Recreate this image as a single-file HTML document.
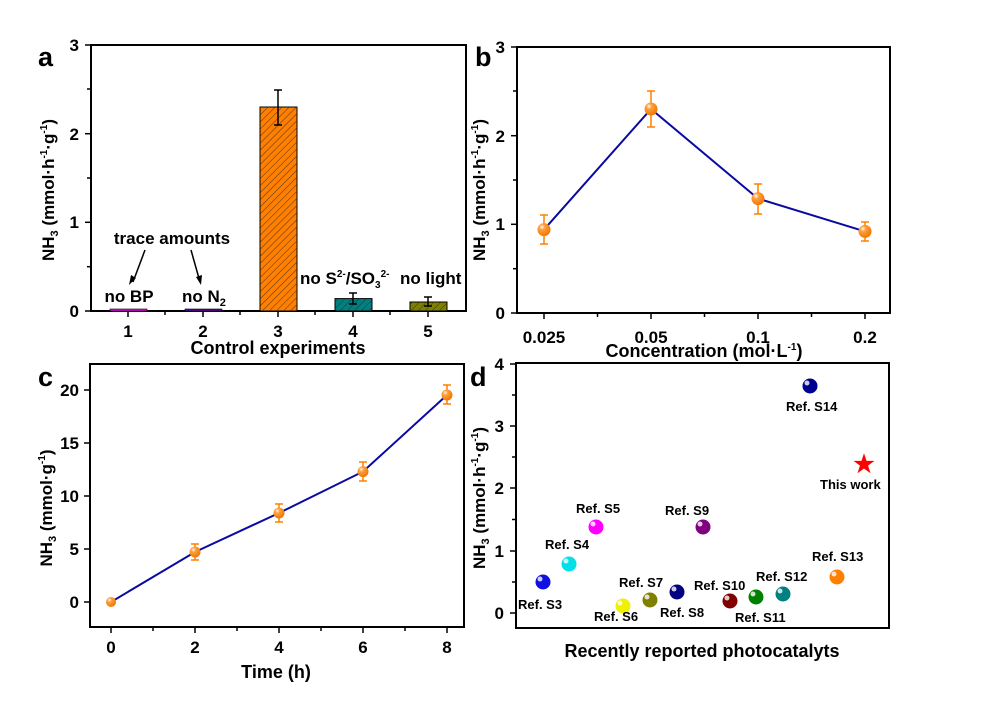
<!DOCTYPE html>
<html><head><meta charset="utf-8"><style>
html,body{margin:0;padding:0;background:#fff}
svg{display:block;font-family:"Liberation Sans",Arial,sans-serif;font-weight:bold}
</style></head><body>
<svg width="985" height="726" viewBox="0 0 985 726" xmlns="http://www.w3.org/2000/svg">
<defs>
<pattern id="h" patternUnits="userSpaceOnUse" width="5" height="5" patternTransform="rotate(45)">
<line x1="0" y1="0" x2="0" y2="5" stroke="#222" stroke-width="0.8"/></pattern>
<radialGradient id="go" cx="0.35" cy="0.3" r="0.7"><stop offset="0" stop-color="#fff"/><stop offset="0.3" stop-color="#ffa040"/><stop offset="1" stop-color="#f07800"/></radialGradient>
</defs>
<g stroke="#000" stroke-width="2" fill="none">
<rect x="91" y="45" width="375" height="266"/>
<rect x="517" y="47" width="373" height="266"/>
<rect x="90" y="364" width="374" height="263"/>
<rect x="516" y="363" width="373" height="265"/>
</g>
<g font-size="17" fill="#000">
<!-- Panel a -->
<text x="38" y="66" font-size="27">a</text>
<g stroke="#000" stroke-width="1.5">
<line x1="85" y1="45" x2="91" y2="45"/><line x1="85" y1="133.7" x2="91" y2="133.7"/><line x1="85" y1="222.3" x2="91" y2="222.3"/><line x1="85" y1="311" x2="91" y2="311"/>
<line x1="87" y1="89" x2="91" y2="89"/><line x1="87" y1="178" x2="91" y2="178"/><line x1="87" y1="266.7" x2="91" y2="266.7"/>
<line x1="128" y1="311" x2="128" y2="317"/><line x1="203" y1="311" x2="203" y2="317"/><line x1="278" y1="311" x2="278" y2="317"/><line x1="353" y1="311" x2="353" y2="317"/><line x1="428" y1="311" x2="428" y2="317"/>
<line x1="165" y1="311" x2="165" y2="315"/><line x1="240" y1="311" x2="240" y2="315"/><line x1="315" y1="311" x2="315" y2="315"/><line x1="390" y1="311" x2="390" y2="315"/>
</g>
<text x="79" y="51" text-anchor="end">3</text><text x="79" y="140" text-anchor="end">2</text><text x="79" y="228" text-anchor="end">1</text><text x="79" y="317" text-anchor="end">0</text>
<text x="128" y="337" text-anchor="middle">1</text><text x="203" y="337" text-anchor="middle">2</text><text x="278" y="337" text-anchor="middle">3</text><text x="353" y="337" text-anchor="middle">4</text><text x="428" y="337" text-anchor="middle">5</text>
<text x="278" y="354" text-anchor="middle" font-size="18">Control experiments</text>
<text transform="translate(54,190) rotate(-90)" text-anchor="middle" font-size="17">NH<tspan font-size="11" dy="4">3</tspan><tspan dy="-4"> (mmol·h</tspan><tspan font-size="10" dy="-7">-1</tspan><tspan dy="7">·g</tspan><tspan font-size="10" dy="-7">-1</tspan><tspan dy="7">)</tspan></text>
<rect x="110" y="309" width="37" height="2" fill="#ff00ff" stroke="#000" stroke-width="0.6"/>
<rect x="185" y="309" width="37" height="2" fill="#6a00b0" stroke="#000" stroke-width="0.6"/>
<rect x="260" y="107" width="37" height="204" fill="#ff7f00" stroke="#000" stroke-width="1"/>
<rect x="260" y="107" width="37" height="204" fill="url(#h)"/>
<rect x="335" y="298.6" width="37" height="12.4" fill="#008080" stroke="#000" stroke-width="1"/>
<rect x="335" y="298.6" width="37" height="12.4" fill="url(#h)"/>
<rect x="410" y="302" width="37" height="9" fill="#808000" stroke="#000" stroke-width="1"/>
<rect x="410" y="302" width="37" height="9" fill="url(#h)"/>
<g stroke="#000" stroke-width="1.5">
<line x1="278" y1="90" x2="278" y2="125"/><line x1="274" y1="90" x2="282" y2="90"/><line x1="274" y1="125" x2="282" y2="125"/>
<line x1="353" y1="293" x2="353" y2="304"/><line x1="349" y1="293" x2="357" y2="293"/><line x1="349" y1="304" x2="357" y2="304"/>
<line x1="428" y1="297" x2="428" y2="306"/><line x1="424" y1="297" x2="432" y2="297"/><line x1="424" y1="306" x2="432" y2="306"/>
<line x1="145" y1="250" x2="133" y2="282"/><line x1="191" y1="250" x2="200" y2="282"/>
</g>
<path d="M129,285 L131,275 L136,278 Z M201,285 L196,277 L202,275 Z" fill="#000"/>
<text x="172" y="244" text-anchor="middle">trace amounts</text>
<text x="129" y="302" text-anchor="middle">no BP</text>
<text x="182" y="302">no N<tspan font-size="11" dy="4">2</tspan></text>
<text x="300" y="284">no S<tspan font-size="10" dy="-7">2-</tspan><tspan dy="7">/SO</tspan><tspan font-size="10" dy="4">3</tspan><tspan font-size="10" dy="-11">2-</tspan></text>
<text x="400" y="284">no light</text>

<!-- Panel b -->
<text x="475" y="66" font-size="27">b</text>
<g stroke="#000" stroke-width="1.5">
<line x1="511" y1="47" x2="517" y2="47"/><line x1="511" y1="135.7" x2="517" y2="135.7"/><line x1="511" y1="224.3" x2="517" y2="224.3"/><line x1="511" y1="313" x2="517" y2="313"/>
<line x1="513" y1="91" x2="517" y2="91"/><line x1="513" y1="180" x2="517" y2="180"/><line x1="513" y1="268.7" x2="517" y2="268.7"/>
<line x1="544" y1="313" x2="544" y2="319"/><line x1="651" y1="313" x2="651" y2="319"/><line x1="758" y1="313" x2="758" y2="319"/><line x1="865" y1="313" x2="865" y2="319"/>
<line x1="597.5" y1="313" x2="597.5" y2="317"/><line x1="704.5" y1="313" x2="704.5" y2="317"/><line x1="811.5" y1="313" x2="811.5" y2="317"/>
</g>
<text x="505" y="53" text-anchor="end">3</text><text x="505" y="142" text-anchor="end">2</text><text x="505" y="230" text-anchor="end">1</text><text x="505" y="319" text-anchor="end">0</text>
<text x="544" y="343" text-anchor="middle">0.025</text><text x="651" y="343" text-anchor="middle">0.05</text><text x="758" y="343" text-anchor="middle">0.1</text><text x="865" y="343" text-anchor="middle">0.2</text>
<text x="704" y="357" text-anchor="middle" font-size="18">Concentration (mol·L<tspan font-size="10" dy="-7">-1</tspan><tspan dy="7">)</tspan></text>
<text transform="translate(485,190) rotate(-90)" text-anchor="middle" font-size="17">NH<tspan font-size="11" dy="4">3</tspan><tspan dy="-4"> (mmol·h</tspan><tspan font-size="10" dy="-7">-1</tspan><tspan dy="7">·g</tspan><tspan font-size="10" dy="-7">-1</tspan><tspan dy="7">)</tspan></text>
<polyline points="544,229.6 651,109 758,198.6 865,231.4" fill="none" stroke="#0a0aa0" stroke-width="2"/>
<g stroke="#ff7f00" stroke-width="1.5">
<line x1="544" y1="215" x2="544" y2="244"/><line x1="540" y1="215" x2="548" y2="215"/><line x1="540" y1="244" x2="548" y2="244"/>
<line x1="651" y1="91" x2="651" y2="127"/><line x1="647" y1="91" x2="655" y2="91"/><line x1="647" y1="127" x2="655" y2="127"/>
<line x1="758" y1="184" x2="758" y2="214"/><line x1="754" y1="184" x2="762" y2="184"/><line x1="754" y1="214" x2="762" y2="214"/>
<line x1="865" y1="222" x2="865" y2="241"/><line x1="861" y1="222" x2="869" y2="222"/><line x1="861" y1="241" x2="869" y2="241"/>
</g>
<g fill="url(#go)"><circle cx="544" cy="229.6" r="6.5"/><circle cx="651" cy="109" r="6.5"/><circle cx="758" cy="198.6" r="6.5"/><circle cx="865" cy="231.4" r="6.5"/></g>

<!-- Panel c -->
<text x="38" y="386" font-size="27">c</text>
<g stroke="#000" stroke-width="1.5">
<line x1="84" y1="390" x2="90" y2="390"/><line x1="84" y1="443" x2="90" y2="443"/><line x1="84" y1="496" x2="90" y2="496"/><line x1="84" y1="549" x2="90" y2="549"/><line x1="84" y1="602" x2="90" y2="602"/>
<line x1="111" y1="627" x2="111" y2="633"/><line x1="195" y1="627" x2="195" y2="633"/><line x1="279" y1="627" x2="279" y2="633"/><line x1="363" y1="627" x2="363" y2="633"/><line x1="447" y1="627" x2="447" y2="633"/>
<line x1="153" y1="627" x2="153" y2="631"/><line x1="237" y1="627" x2="237" y2="631"/><line x1="321" y1="627" x2="321" y2="631"/><line x1="405" y1="627" x2="405" y2="631"/>
</g>
<text x="79" y="396" text-anchor="end">20</text><text x="79" y="449" text-anchor="end">15</text><text x="79" y="502" text-anchor="end">10</text><text x="79" y="555" text-anchor="end">5</text><text x="79" y="608" text-anchor="end">0</text>
<text x="111" y="653" text-anchor="middle">0</text><text x="195" y="653" text-anchor="middle">2</text><text x="279" y="653" text-anchor="middle">4</text><text x="363" y="653" text-anchor="middle">6</text><text x="447" y="653" text-anchor="middle">8</text>
<text x="276" y="678" text-anchor="middle" font-size="18">Time (h)</text>
<text transform="translate(52,508) rotate(-90)" text-anchor="middle" font-size="17">NH<tspan font-size="11" dy="4">3</tspan><tspan dy="-4"> (mmol·g</tspan><tspan font-size="10" dy="-7">-1</tspan><tspan dy="7">)</tspan></text>
<polyline points="111,602 195,552 279,513 363,471.6 447,395" fill="none" stroke="#0a0aa0" stroke-width="2"/>
<g stroke="#ff7f00" stroke-width="1.5">
<line x1="195" y1="544" x2="195" y2="560"/><line x1="191" y1="544" x2="199" y2="544"/><line x1="191" y1="560" x2="199" y2="560"/>
<line x1="279" y1="504" x2="279" y2="522"/><line x1="275" y1="504" x2="283" y2="504"/><line x1="275" y1="522" x2="283" y2="522"/>
<line x1="363" y1="462" x2="363" y2="481"/><line x1="359" y1="462" x2="367" y2="462"/><line x1="359" y1="481" x2="367" y2="481"/>
<line x1="447" y1="385" x2="447" y2="404"/><line x1="443" y1="385" x2="451" y2="385"/><line x1="443" y1="404" x2="451" y2="404"/>
</g>
<g fill="url(#go)"><circle cx="111" cy="602" r="5"/><circle cx="195" cy="552" r="5.5"/><circle cx="279" cy="513" r="5.5"/><circle cx="363" cy="471.6" r="5.5"/><circle cx="447" cy="395" r="5.5"/></g>

<!-- Panel d -->
<text x="470" y="386" font-size="27">d</text>
<g stroke="#000" stroke-width="1.5">
<line x1="510" y1="364" x2="516" y2="364"/><line x1="510" y1="426" x2="516" y2="426"/><line x1="510" y1="488" x2="516" y2="488"/><line x1="510" y1="551" x2="516" y2="551"/><line x1="510" y1="613" x2="516" y2="613"/>
<line x1="512" y1="395" x2="516" y2="395"/><line x1="512" y1="457" x2="516" y2="457"/><line x1="512" y1="519.5" x2="516" y2="519.5"/><line x1="512" y1="582" x2="516" y2="582"/>
</g>
<text x="504" y="370" text-anchor="end">4</text><text x="504" y="432" text-anchor="end">3</text><text x="504" y="494" text-anchor="end">2</text><text x="504" y="557" text-anchor="end">1</text><text x="504" y="619" text-anchor="end">0</text>
<text x="702" y="657" text-anchor="middle" font-size="18">Recently reported photocatalyts</text>
<text transform="translate(485,498) rotate(-90)" text-anchor="middle" font-size="17">NH<tspan font-size="11" dy="4">3</tspan><tspan dy="-4"> (mmol·h</tspan><tspan font-size="10" dy="-7">-1</tspan><tspan dy="7">·g</tspan><tspan font-size="10" dy="-7">-1</tspan><tspan dy="7">)</tspan></text>
<g>
<circle cx="543" cy="582" r="7.5" fill="#1010e0"/>
<circle cx="569" cy="564" r="7.5" fill="#00e0e8"/>
<circle cx="596" cy="527" r="7.5" fill="#ff00ff"/>
<circle cx="623" cy="606" r="7.5" fill="#f0f000"/>
<circle cx="650" cy="600" r="7.5" fill="#808000"/>
<circle cx="677" cy="592" r="7.5" fill="#000080"/>
<circle cx="703" cy="527" r="7.5" fill="#800080"/>
<circle cx="730" cy="601" r="7.5" fill="#800000"/>
<circle cx="756" cy="597" r="7.5" fill="#008000"/>
<circle cx="783" cy="594" r="7.5" fill="#008080"/>
<circle cx="837" cy="577" r="7.5" fill="#ff7f00"/>
<circle cx="810" cy="386" r="7.5" fill="#000090"/>
</g>
<g fill="#fff" opacity="0.8">
<circle cx="540" cy="579" r="2.5"/><circle cx="566" cy="561" r="2.5"/><circle cx="593" cy="524" r="2.5"/><circle cx="620" cy="603" r="2.5"/><circle cx="647" cy="597" r="2.5"/><circle cx="674" cy="589" r="2.5"/><circle cx="700" cy="524" r="2.5"/><circle cx="727" cy="598" r="2.5"/><circle cx="753" cy="594" r="2.5"/><circle cx="780" cy="591" r="2.5"/><circle cx="834" cy="574" r="2.5"/><circle cx="807" cy="383" r="2.5"/>
</g>
<text x="864" y="472" text-anchor="middle" fill="#ff0000" font-size="24">★</text>
<g font-size="13">
<text x="518" y="609">Ref. S3</text>
<text x="545" y="549">Ref. S4</text>
<text x="576" y="513">Ref. S5</text>
<text x="594" y="621">Ref. S6</text>
<text x="619" y="587">Ref. S7</text>
<text x="660" y="617">Ref. S8</text>
<text x="665" y="515">Ref. S9</text>
<text x="694" y="590">Ref. S10</text>
<text x="735" y="622">Ref. S11</text>
<text x="756" y="581">Ref. S12</text>
<text x="812" y="561">Ref. S13</text>
<text x="786" y="411">Ref. S14</text>
<text x="820" y="489">This work</text>
</g>
</g>
</svg>
</body></html>
